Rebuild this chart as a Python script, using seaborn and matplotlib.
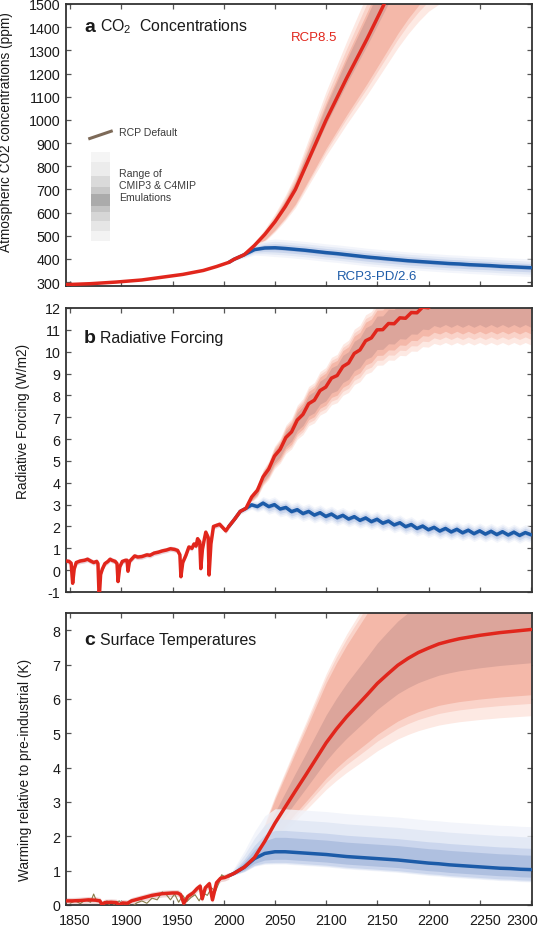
import numpy as np
import matplotlib
matplotlib.use("Agg")
import matplotlib.pyplot as plt
import seaborn as sns
from matplotlib.patches import Rectangle
from matplotlib.lines import Line2D
from matplotlib.transforms import ScaledTranslation

# --- data ---
HIST_CO2_YEARS = [1846, 1870, 1895, 1920, 1940, 1960, 1980, 1993, 2005]
HIST_CO2 = [289, 293, 300, 309, 321, 333, 350, 367, 385]

FUT_YEARS = [2005] + list(range(2010, 2301, 10))
RCP85_CO2 = [385, 398, 418, 458, 505, 560, 625, 700, 800, 900, 1000, 1090, 1180,
             1265, 1350, 1440, 1530, 1620, 1700, 1770, 1830, 1870, 1900, 1925,
             1940, 1950, 1955, 1960, 1960, 1962, 1962]
RCP26_CO2 = [385, 398, 418, 440, 447, 448, 445, 441, 437, 432, 427, 423, 418,
             413, 408, 404, 400, 396, 392, 389, 386, 383, 380, 378, 375, 373,
             371, 368, 366, 364, 362]

HIST_RF_YEARS = [1846, 1849, 1851, 1852.5, 1854, 1856, 1860, 1864, 1867, 1870,
                 1873, 1876, 1877.2, 1878.4, 1879.8, 1881.5, 1884, 1887, 1889, 1891,
                 1894, 1895.8, 1896.8, 1898.5, 1901, 1904, 1905.6, 1906.5, 1908, 1913,
                 1916, 1920, 1925, 1928, 1932, 1936, 1940, 1944, 1948, 1952,
                 1955, 1957.2, 1958.2, 1960, 1963, 1966, 1969, 1971, 1973, 1974.5,
                 1976.6, 1977.6, 1979.2, 1981, 1982.5, 1984.8, 1985.7, 1987.5, 1990, 1993,
                 1996, 1999, 2002, 2005]
HIST_RF = [0.42, 0.40, 0.32, -0.60, 0.05, 0.35, 0.42, 0.45, 0.50, 0.42,
           0.35, 0.40, 0.30, -1.30, -0.20, 0.05, 0.30, 0.40, 0.50, 0.45,
           0.40, 0.30, -0.52, 0.15, 0.40, 0.45, 0.45, -0.05, 0.40, 0.65,
           0.60, 0.62, 0.70, 0.68, 0.78, 0.82, 0.88, 0.92, 0.98, 0.95,
           0.90, 0.70, -0.30, 0.35, 0.67, 1.06, 1.00, 1.20, 1.10, 1.44,
           1.30, 0.07, 0.95, 1.40, 1.74, 1.50, -0.22, 1.20, 2.00, 2.05,
           2.10, 1.95, 1.80, 2.00]

RF_YEARS = np.linspace(2005, 2300, 54)
RCP85_RF = [2.00, 2.33, 2.69, 2.83, 3.35, 3.65, 4.27, 4.63, 5.22, 5.53,
            6.07, 6.33, 6.87, 7.13, 7.62, 7.78, 8.22, 8.38, 8.79, 8.91,
            9.32, 9.48, 9.92, 10.08, 10.50, 10.63, 11.00, 11.01, 11.29, 11.28,
            11.55, 11.53, 11.79, 11.78, 12.04, 12.01, 12.22, 12.13, 12.27, 12.13,
            12.27, 12.13, 12.27, 12.13, 12.27, 12.13, 12.27, 12.13, 12.27, 12.13,
            12.27, 12.13, 12.27, 12.13]
RCP26_RF = [2.00, 2.33, 2.69, 2.83, 2.99, 2.91, 3.07, 2.91, 3.00, 2.80,
            2.87, 2.68, 2.77, 2.59, 2.69, 2.52, 2.63, 2.46, 2.57, 2.40,
            2.51, 2.34, 2.45, 2.28, 2.39, 2.22, 2.33, 2.15, 2.25, 2.07,
            2.17, 1.99, 2.09, 1.91, 2.02, 1.85, 1.96, 1.79, 1.91, 1.75,
            1.87, 1.71, 1.83, 1.67, 1.80, 1.65, 1.78, 1.63, 1.76, 1.61,
            1.74, 1.59, 1.72, 1.62]

HIST_T_YEARS = [1846, 1852, 1860, 1868, 1875, 1879, 1881, 1884, 1890, 1895,
                1898, 1901, 1906, 1910, 1920, 1930, 1940, 1950, 1955, 1958,
                1961, 1965, 1970, 1974, 1977, 1979, 1982, 1986, 1989, 1993,
                1997, 2001, 2005]
HIST_T = [0.12, 0.12, 0.13, 0.15, 0.14, 0.12, 0.02, 0.07, 0.08, 0.07,
          0.00, 0.06, 0.05, 0.12, 0.20, 0.28, 0.33, 0.35, 0.35, 0.30,
          0.05, 0.25, 0.35, 0.48, 0.55, 0.18, 0.50, 0.62, 0.15, 0.65,
          0.78, 0.80, 0.85]
OBS_YEARS = [1850, 1855, 1860, 1865, 1870, 1873, 1876, 1879, 1882, 1886,
             1890, 1894, 1898, 1902, 1906, 1910, 1915, 1920, 1925, 1930,
             1935, 1940, 1944, 1948, 1952, 1956, 1960, 1964, 1968, 1972,
             1976, 1980, 1984, 1988, 1992, 1995, 1998, 2002, 2005]
OBS_T = [0.05, 0.12, 0.04, 0.15, 0.08, 0.32, 0.10, 0.15, -0.05, 0.12,
         -0.08, 0.05, 0.12, -0.02, 0.08, -0.06, 0.06, 0.12, 0.05, 0.20,
         0.15, 0.38, 0.30, 0.15, 0.32, 0.08, 0.28, 0.10, 0.22, 0.30,
         0.12, 0.35, 0.28, 0.50, 0.40, 0.62, 0.88, 0.80, 0.88]
RCP85_T = [0.85, 0.92, 1.10, 1.38, 1.85, 2.38, 2.85, 3.32, 3.78, 4.25, 4.72,
           5.12, 5.48, 5.80, 6.12, 6.45, 6.72, 6.98, 7.18, 7.35, 7.48, 7.60,
           7.68, 7.75, 7.80, 7.85, 7.89, 7.93, 7.96, 7.99, 8.02]
RCP26_T = [0.85, 0.92, 1.10, 1.35, 1.50, 1.55, 1.55, 1.53, 1.51, 1.49, 1.47,
           1.44, 1.41, 1.39, 1.37, 1.35, 1.33, 1.31, 1.28, 1.25, 1.22, 1.20,
           1.17, 1.15, 1.13, 1.11, 1.09, 1.07, 1.06, 1.04, 1.03]

# uncertainty ranges (outer -> inner): red as fraction of the rise, blue in absolute units
RED_CO2_SPREAD = [(-0.25, 0.20), (-0.22, 0.16), (-0.20, 0.12), (-0.03, 0.10)]
BLUE_CO2_SPREAD = [(-38, 38), (-28, 28), (-18, 18), (-8, 8)]
RED_RF_SPREAD = [(-0.18, 0.14), (-0.155, 0.12), (-0.13, 0.10), (-0.10, 0.07)]
BLUE_RF_SPREAD = [(-0.36, 0.36), (-0.28, 0.28), (-0.20, 0.20), (-0.10, 0.10)]
RED_T_SPREAD = [(-0.35, 0.52), (-0.30, 0.49), (-0.265, 0.45), (-0.135, 0.21)]
BLUE_T_SPREAD = [(-0.36, 1.25), (-0.34, 0.95), (-0.31, 0.62), (-0.22, 0.42)]

# --- style ---
RED = "#e1261c"
BLUE = "#1c5ba8"
RED_BANDS = ["#fde9e3", "#fad3c9", "#f4b8a9", "#dca59b"]
BLUE_BANDS = ["#f0f3fa", "#dfe6f4", "#c5d2eb", "#a9bbdd"]
SPINE = "#333333"
TXT = "#1a1a1a"

sns.set_theme(style="ticks")
plt.rcParams["font.family"] = ["Liberation Sans", "DejaVu Sans"]
plt.rcParams["mathtext.fontset"] = "custom"
plt.rcParams["mathtext.rm"] = "Liberation Sans"
plt.rcParams["axes.unicode_minus"] = False

W, H = 538, 928
fig = plt.figure(figsize=(W / 100, H / 100), dpi=100)


def px_axes(top, bottom, left=66, right=532):
    return fig.add_axes([left / W, 1 - bottom / H, (right - left) / W, (bottom - top) / H])


ax_a = px_axes(5, 287)
ax_b = px_axes(309, 593)
ax_c = px_axes(614, 906)


def bands(ax, x, center, scale, spreads, colors, alpha=1.0):
    center = np.asarray(center, float)
    for (lo, hi), col in zip(spreads, colors):
        ax.fill_between(x, center + lo * scale, center + hi * scale,
                        color=col, lw=0, alpha=alpha, zorder=2)


def line(ax, x, y, color, lw=2.5, zorder=5):
    sns.lineplot(x=np.asarray(x, float), y=np.asarray(y, float), ax=ax, color=color,
                 linewidth=lw, estimator=None, sort=False, zorder=zorder,
                 solid_capstyle="round", legend=False)


def ramp(years):
    return np.clip((np.asarray(years, float) - 2005) / 40, 0, 1)


fy = np.asarray(FUT_YEARS, float)

# --- a: CO2 ---
c85 = np.asarray(RCP85_CO2, float)
bands(ax_a, fy, c85, c85 - HIST_CO2[-1], RED_CO2_SPREAD, RED_BANDS)
bands(ax_a, fy, RCP26_CO2, ramp(fy), BLUE_CO2_SPREAD, BLUE_BANDS, alpha=0.8)
line(ax_a, fy, RCP26_CO2, BLUE)
line(ax_a, HIST_CO2_YEARS + FUT_YEARS[1:], HIST_CO2 + RCP85_CO2[1:], RED)

# --- b: radiative forcing ---
r85 = np.asarray(RCP85_RF, float)
hr = np.asarray(HIST_RF, float)
ax_b.fill_between(HIST_RF_YEARS, hr - 0.12, hr + 0.12, color="#ead2da", lw=0, zorder=2)
bands(ax_b, RF_YEARS, r85, r85 - HIST_RF[-1], RED_RF_SPREAD, RED_BANDS)
bands(ax_b, RF_YEARS, RCP26_RF, ramp(RF_YEARS), BLUE_RF_SPREAD, BLUE_BANDS, alpha=0.8)
line(ax_b, RF_YEARS, RCP26_RF, BLUE)
line(ax_b, list(HIST_RF_YEARS) + list(RF_YEARS[1:]), HIST_RF + RCP85_RF[1:], RED)

# --- c: temperature ---
t85 = np.asarray(RCP85_T, float)
ht = np.asarray(HIST_T, float)
ax_c.fill_between(HIST_T_YEARS, ht - 0.1, ht + 0.1, color="#f0d6d6", lw=0, zorder=2)
bands(ax_c, fy, t85, t85 - HIST_T[-1], RED_T_SPREAD, RED_BANDS)
bands(ax_c, fy, RCP26_T, ramp(fy), BLUE_T_SPREAD, BLUE_BANDS, alpha=0.8)
line(ax_c, OBS_YEARS, OBS_T, "#8a7d4a", lw=0.8, zorder=3)
line(ax_c, fy, RCP26_T, BLUE)
line(ax_c, HIST_T_YEARS + FUT_YEARS[1:], HIST_T + RCP85_T[1:], RED)

# --- axes styling ---
specs = [
    (ax_a, (283, 1500), range(300, 1501, 100), "Atmospheric CO2 concentrations (ppm)", (-0.113, 0.55)),
    (ax_b, (-1, 12), range(-1, 13), "Radiative Forcing (W/m2)", (-0.077, 0.603)),
    (ax_c, (0, 8.5), range(0, 9), "Warming relative to pre-industrial (K)", (-0.074, 0.466)),
]
for ax, ylim, yt, ylab, lab_xy in specs:
    ax.set_xlim(1846, 2301)
    ax.set_ylim(*ylim)
    ax.set_xticks(range(1850, 2301, 50))
    ax.set_yticks(list(yt))
    ax.tick_params(direction="in", top=True, right=True, length=3.5, width=0.9,
                   color="#555555", labelsize=10.3, labelcolor=TXT)
    ax.tick_params(axis="y", pad=4)
    ax.tick_params(axis="x", pad=6)
    for s in ax.spines.values():
        s.set_linewidth(1.3)
        s.set_color(SPINE)
    ax.set_xlabel("")
    ax.set_ylabel(ylab, fontsize=9.8, color=TXT)
    ax.yaxis.set_label_coords(*lab_xy)
    ax.set_facecolor("white")

ax_a.tick_params(labelbottom=False)
ax_b.tick_params(labelbottom=False)

# shift year labels like the original
labels = ax_c.get_xticklabels()
for i, lab in enumerate(labels):
    dx = -9 if i == len(labels) - 1 else 5
    lab.set_transform(lab.get_transform() + ScaledTranslation(dx / 100, 0, fig.dpi_scale_trans))

# --- panel titles ---
for ax, letter, title, yb in [(ax_a, "a", r"CO$_\mathregular{2}$  Concentrations", 0.905),
                              (ax_b, "b", "Radiative Forcing", 0.879),
                              (ax_c, "c", "Surface Temperatures", 0.893)]:
    ax.text(0.0386, yb, letter, transform=ax.transAxes, fontsize=14, fontweight="bold",
            color=TXT, va="baseline", ha="left")
    ax.text(0.0735, yb, title, transform=ax.transAxes, fontsize=11.4,
            color=TXT, va="baseline", ha="left")

# scenario labels
ax_a.text(2066, 1357, "RCP8.5", color=RED, fontsize=9.5, va="center", ha="left")
ax_a.text(2110, 325, "RCP3-PD/2.6", color=BLUE, fontsize=9.5, va="center", ha="left")


# --- legend in panel a (pixel layout) ---
def fa(x, y):
    return (x - 66) / 466, 1 - (y - 5) / 282


ax_a.add_line(Line2D([fa(88.3, 140)[0], fa(112.7, 131.7)[0]],
                     [fa(88.3, 140)[1], fa(112.7, 131.7)[1]],
                     transform=ax_a.transAxes, color="#7d6a58", lw=2.2,
                     solid_capstyle="butt", zorder=6))
ax_a.text(*fa(119.3, 133.3), "RCP Default", transform=ax_a.transAxes, fontsize=7.6,
          color="#3c3c3c", va="center", ha="left")

grad = [(152.7, 163.3, "#f5f5f5"), (163.3, 176.7, "#ececec"), (176.7, 188.3, "#dadada"),
        (188.3, 195.0, "#c8c8c8"), (195.0, 206.7, "#ababab"), (206.7, 213.3, "#c4c4c4"),
        (213.3, 221.7, "#d6d6d6"), (221.7, 231.7, "#e6e6e6"), (231.7, 241.7, "#f3f3f3")]
for y0, y1, col in grad:
    x0, yy1 = fa(91, y1)
    x1, yy0 = fa(110, y0)
    ax_a.add_patch(Rectangle((x0, yy1), x1 - x0, yy0 - yy1, transform=ax_a.transAxes,
                             facecolor=col, edgecolor="none", zorder=6))
ax_a.text(*fa(119.3, 186.3), "Range of\nCMIP3 & C4MIP\nEmulations", transform=ax_a.transAxes,
          fontsize=7.6, color="#3c3c3c", va="center", ha="left", linespacing=1.25)

fig.savefig("out.png", dpi=100, facecolor="white")
